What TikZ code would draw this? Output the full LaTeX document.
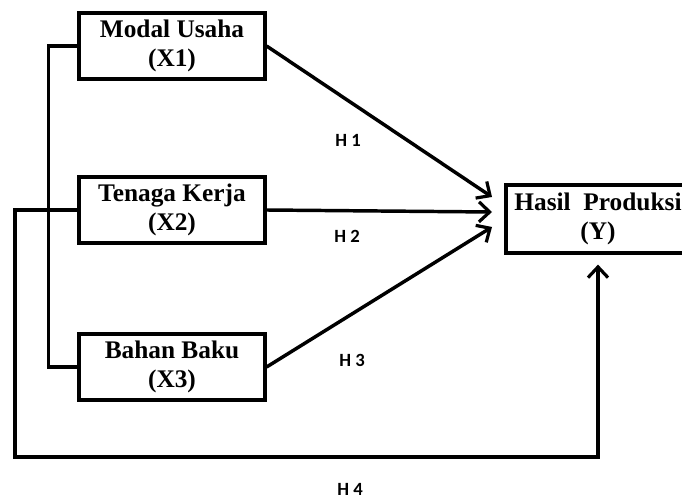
\documentclass[tikz,border=0pt]{standalone}
\usepackage{fontspec}
\setmainfont{Liberation Serif}
\newfontfamily\hfont{Carlito}
\usetikzlibrary{arrows.meta}

\tikzset{
    kotak/.style={draw, line width=2.4pt, minimum width=139.5pt, minimum height=49.5pt,
        align=center, font=\fontsize{19}{21.5}\selectfont\bfseries},
    garis/.style={line width=2.6pt},
    panah/.style={garis, -{Straight Barb[length=8pt, width=15pt, line width=2.4pt]}},
    hlabel/.style={font=\hfont\bfseries\fontsize{14}{16}\selectfont}
}

\begin{document}
\begin{tikzpicture}[x=0.75pt, y=-0.75pt]
            \useasboundingbox (0,0) rectangle (682,499);

            \node[kotak] (modal) at (172,46) {Modal Usaha\\(X1)};
            \node[kotak] (tenaga) at (172,210) {Tenaga Kerja\\(X2)};
            \node[kotak] (bahan) at (172,367) {Bahan Baku\\(X3)};
            \node[kotak, minimum width=138pt, minimum height=51pt] (hasil) at (598,219) {Hasil\ \ Produksi\\(Y)};

            \coordinate (t1) at (492,197);
            \coordinate (t2) at (492,212);
            \coordinate (t3) at (492,227);
            \coordinate (kiri) at (15,457);

            \draw[panah] (modal.east) -- (t1);
            \draw[panah] (tenaga.east) -- (t2);
            \draw[panah] (bahan.east) -- (t3);

            % garis kiri
            \draw[garis] (modal.west) -- ++(-29,0) |- (bahan.west);
            \draw[panah, shorten >=7.5pt] (tenaga.west) -| (kiri) -| (hasil.south);

            \node[hlabel] (h1) at (348,140) {H 1};
            \node[hlabel] (h2) at (347,236) {H 2};
            \node[hlabel] (h3) at (352,360) {H 3};
            \node[hlabel, inner sep=1pt] (h4) at (350,489) {H 4};


        \end{tikzpicture}
\end{document}
